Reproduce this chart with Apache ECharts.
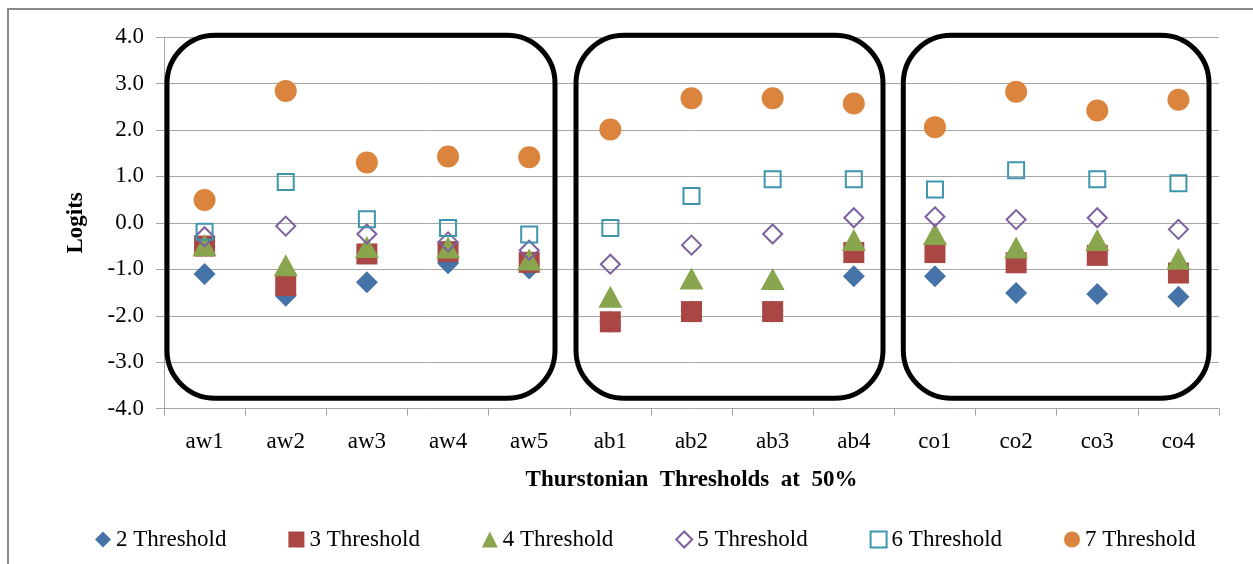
<!DOCTYPE html>
<html>
<head>
<meta charset="utf-8">
<script src="https://cdn.jsdelivr.net/npm/echarts@6/dist/echarts.min.js"></script>
<style>
html,body{margin:0;padding:0;background:#fff;}
#c{width:1253px;height:564px;}
</style>
</head>
<body>
<div id="c"></div>
<script>
var categories = ['aw1','aw2','aw3','aw4','aw5','ab1','ab2','ab3','ab4','co1','co2','co3','co4'];
var threshold2 = [-1.10,-1.57,-1.28,-0.87,-0.98,-2.13,-1.91,-1.91,-1.15,-1.15,-1.51,-1.53,-1.59];
var threshold3 = [-0.50,-1.35,-0.67,-0.62,-0.85,-2.13,-1.91,-1.91,-0.64,-0.64,-0.86,-0.70,-1.08];
var threshold4 = [-0.48,-0.91,-0.52,-0.53,-0.79,-1.59,-1.20,-1.21,-0.37,-0.24,-0.53,-0.37,-0.77];
var threshold5 = [-0.30,-0.07,-0.24,-0.41,-0.59,-0.89,-0.48,-0.24,0.11,0.13,0.07,0.11,-0.14];
var threshold6 = [-0.19,0.88,0.08,-0.11,-0.25,-0.11,0.58,0.94,0.94,0.72,1.13,0.94,0.85];
var threshold7 = [0.49,2.84,1.30,1.43,1.41,2.01,2.68,2.68,2.57,2.06,2.82,2.42,2.65];
var seriesNames = ['2 Threshold','3 Threshold','4 Threshold','5 Threshold','6 Threshold','7 Threshold'];
var yTicks = {min:-4, max:4, interval:1};

var FONT = 'Liberation Serif';
var FS = 23;
var chart = echarts.init(document.getElementById('c'), null, {renderer:'canvas'});

// measure legend text width to space items evenly
var cv = document.createElement('canvas').getContext('2d');
cv.font = FS + 'px "' + FONT + '"';
var tw = cv.measureText(seriesNames[0]).width;
var step = 193.4, iconW = 16;
var gap = step - iconW - 5 - tw;

var transparent = 'rgba(255,255,255,0)';
var option = {
  animation:false,
  backgroundColor:'#fff',
  grid:{left:164, top:37, right:34, bottom:155.3, containLabel:false},
  legend:{
    left:90, top:523, itemWidth:iconW, itemHeight:16, itemGap:gap,
    textStyle:{fontFamily:FONT, fontSize:FS, color:'#000'},
    data:seriesNames
  },
  xAxis:{
    type:'category', data:categories, boundaryGap:true,
    name:'Thurstonian  Thresholds  at  50%', nameLocation:'middle', nameGap:60,
    nameTextStyle:{fontFamily:FONT, fontSize:FS, fontWeight:'bold', color:'#000'},
    axisLine:{onZero:false, lineStyle:{color:'#a6a6a6', width:1}},
    axisTick:{show:true, interval:0, length:7, lineStyle:{color:'#a6a6a6'}},
    axisLabel:{fontFamily:FONT, fontSize:FS, color:'#000', margin:22, interval:0},
    splitLine:{show:false}
  },
  yAxis:{
    type:'value', min:yTicks.min, max:yTicks.max, interval:yTicks.interval,
    name:'Logits', nameLocation:'middle', nameGap:76, nameRotate:90,
    nameTextStyle:{fontFamily:FONT, fontSize:FS, fontWeight:'bold', color:'#000'},
    axisLine:{show:true, onZero:false, lineStyle:{color:'#a6a6a6', width:1}},
    axisTick:{show:true, length:8, lineStyle:{color:'#a6a6a6'}},
    axisLabel:{fontFamily:FONT, fontSize:FS, color:'#000', margin:20,
      formatter:function(v){return v.toFixed(1);}},
    splitLine:{show:true, lineStyle:{color:'#a6a6a6', width:1}}
  },
  series:[
    {name:seriesNames[0], type:'scatter', data:threshold2, symbol:'diamond', symbolSize:22,
      itemStyle:{color:'#4572A7', opacity:1}},
    {name:seriesNames[1], type:'scatter', data:threshold3, symbol:'rect', symbolSize:21,
      itemStyle:{color:'#AA4643', opacity:1}},
    {name:seriesNames[2], type:'scatter', data:threshold4, symbol:'triangle', symbolSize:[24,22],
      itemStyle:{color:'#89A54E', opacity:1}},
    {name:seriesNames[3], type:'scatter', data:threshold5, symbol:'diamond', symbolSize:19,
      itemStyle:{color:transparent, borderColor:'#7D60A0', borderWidth:2, opacity:1}},
    {name:seriesNames[4], type:'scatter', data:threshold6, symbol:'rect', symbolSize:16,
      itemStyle:{color:transparent, borderColor:'#3D96AE', borderWidth:2, opacity:1}},
    {name:seriesNames[5], type:'scatter', data:threshold7, symbol:'circle', symbolSize:22,
      itemStyle:{color:'#DB843D', opacity:1}}
  ],
  graphic:[
    {type:'rect', z:100, shape:{x:8, y:9, width:1300, height:700}, style:{fill:'none', stroke:'#8a8a8a', lineWidth:2}},
    {type:'rect', z:100, shape:{x:167, y:35.3, width:388, height:363, r:48}, style:{fill:'none', stroke:'#000', lineWidth:5}},
    {type:'rect', z:100, shape:{x:576, y:35.3, width:307, height:363, r:48}, style:{fill:'none', stroke:'#000', lineWidth:5}},
    {type:'rect', z:100, shape:{x:903.3, y:35.3, width:305.7, height:363, r:48}, style:{fill:'none', stroke:'#000', lineWidth:5}}
  ]
};
chart.setOption(option);
</script>
</body>
</html>
